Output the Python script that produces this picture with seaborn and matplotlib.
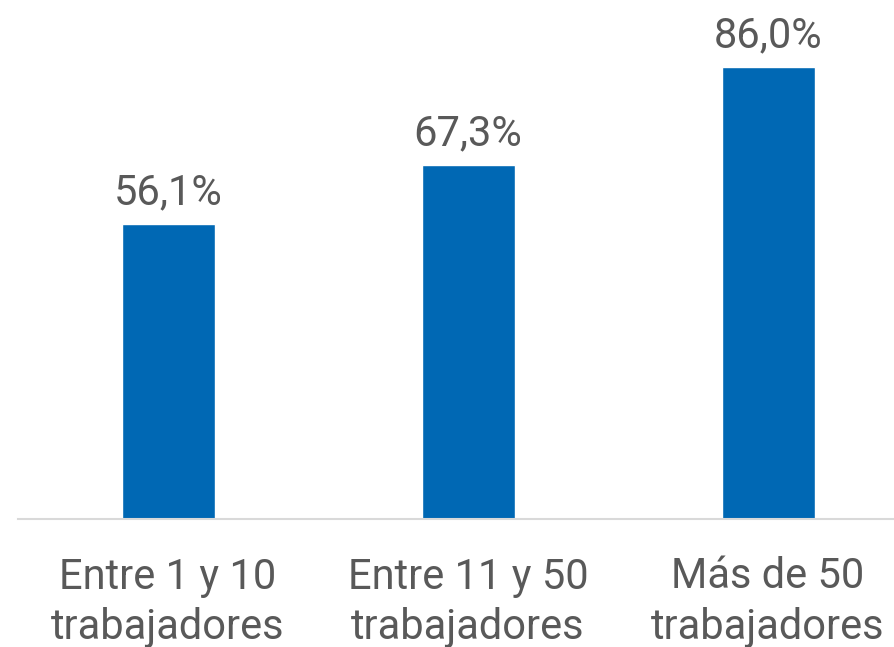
import matplotlib
matplotlib.use('Agg')
import matplotlib.pyplot as plt
import seaborn as sns
import pandas as pd

sns.set_style('white')
plt.rcParams['font.family'] = ['Roboto', 'DejaVu Sans']

# datos
categorias = ['Entre 1 y 10\ntrabajadores', 'Entre 11 y 50\ntrabajadores', 'Más de 50\ntrabajadores']
valores = [56.1, 67.3, 86.0]
etiquetas = ['56,1%', '67,3%', '86,0%']

df = pd.DataFrame({'cat': categorias, 'val': valores})

fig = plt.figure(figsize=(8.94, 6.47), dpi=100)
ax = fig.add_axes([18 / 894, 128 / 647, 1 - 18 / 894, 473 / 647])

sns.barplot(data=df, x='cat', y='val', color='#0068B4', saturation=1, width=0.31, ax=ax)

for i, (v, t) in enumerate(zip(valores, etiquetas)):
    ax.annotate(t, (i, v), xytext=(0, 8), textcoords='offset points',
                ha='center', va='bottom', fontsize=30, color='#595959', clip_on=False)

ax.set_ylim(0, 90)
ax.set_xlim(-0.5, 2.42)
ax.set_xlabel('')
ax.set_ylabel('')
ax.set_yticks([])
ax.tick_params(axis='x', length=0, pad=27, labelsize=30, labelcolor='#595959')
for lbl in ax.get_xticklabels():
    lbl.set_linespacing(1.3)
for s in ['top', 'left', 'right']:
    ax.spines[s].set_visible(False)
ax.spines['bottom'].set_color('#D9D9D9')
ax.spines['bottom'].set_linewidth(1.5)

fig.savefig('out.png', dpi=100)
